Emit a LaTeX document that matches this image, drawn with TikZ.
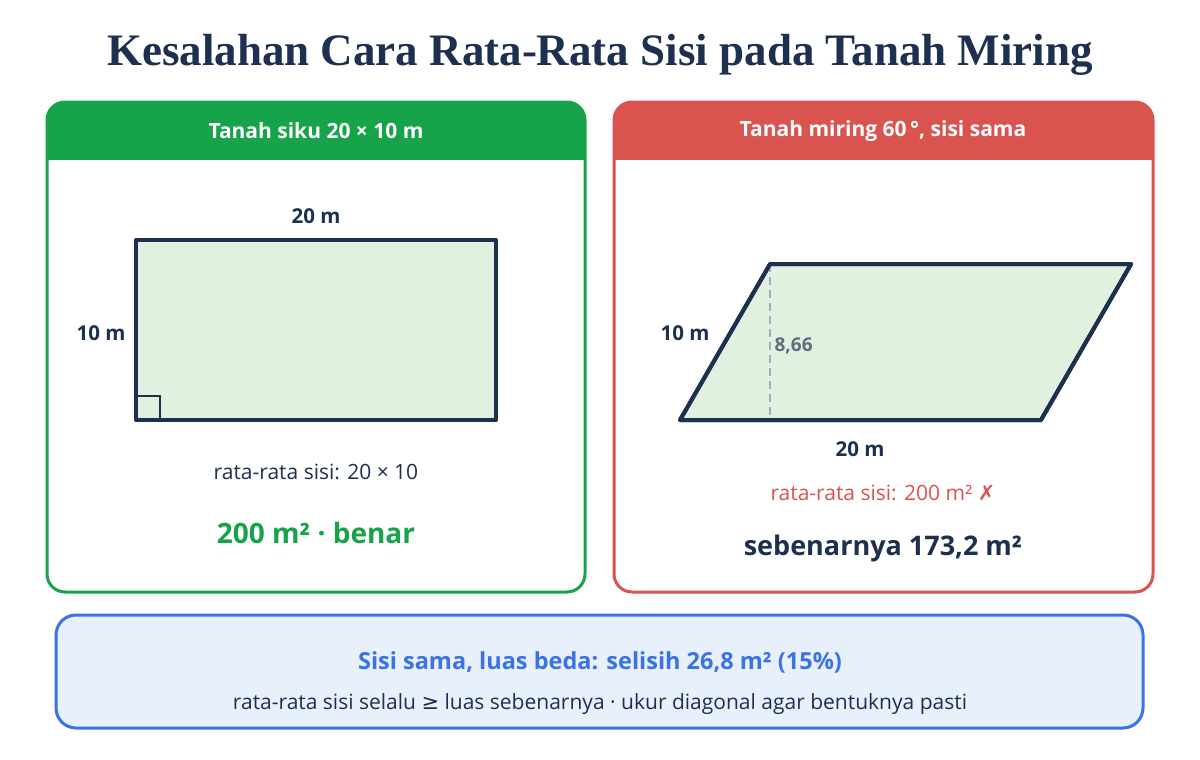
\documentclass[tikz,border=0pt]{standalone}
\usepackage{fontspec}
\setmainfont{Liberation Serif}
\setsansfont{Open Sans}
\newfontfamily\symb{DejaVu Sans}
\usetikzlibrary{calc}

\definecolor{navy}{HTML}{1E3050}
\definecolor{okgreen}{HTML}{16A34A}
\definecolor{badred}{HTML}{D9534F}
\definecolor{landfill}{HTML}{E1F0DF}
\definecolor{hintgray}{HTML}{A3ACBD}
\definecolor{numgray}{HTML}{5F6B7F}
\definecolor{notefill}{HTML}{E8F0FC}
\definecolor{noteblue}{HTML}{3B73E6}

\begin{document}
\begin{tikzpicture}[x=1pt,y=-1pt]
	\tikzset{panel/.style={line width=3pt, rounded corners=18pt}}
	\tikzset{land/.style={fill=landfill, draw=navy, line width=4pt, line join=round}}
	\tikzset{headtxt/.style={font=\sffamily\bfseries\fontsize{21}{24}\selectfont, text=white}}
	\tikzset{dimtxt/.style={font=\sffamily\bfseries\fontsize{20.5}{23}\selectfont, text=navy}}
	\tikzset{plaintxt/.style={font=\sffamily\fontsize{21}{24}\selectfont, text=navy}}
	\pgfmathsetmacro{\h}{156};
	\pgfmathsetmacro{\off}{\h/tan(60)};
	\useasboundingbox (0,0) rectangle (1200,760);
	\fill[white] (0,0) rectangle (1200,760);
	
	\node (title) at (600,55) {\bfseries\fontsize{45}{50}\selectfont\color{navy}Kesalahan Cara Rata-Rata Sisi pada Tanah Miring};
	
	% left panel: right-angled plot
	\begin{scope}
		\clip[rounded corners=18pt] (47,102) rectangle (585,592);
		\fill[okgreen] (47,102) rectangle (585,160);
	\end{scope}
	\draw[panel, draw=okgreen] (47,102) rectangle (585,592);
	\node[headtxt] (headL) at (316,131) {Tanah siku 20 × 10 m};
	
	\coordinate (R1) at (136,420);
	\coordinate (R2) at (496,240);
	\draw[land] (R1) rectangle (R2);
	\draw[navy, line width=2.5pt] ($(R1)+(24,0)$) -- ++(0,-24) -- ++(-24,0);
	\node[dimtxt] (topL) at (316,216) {20 m};
	\node[dimtxt] (sideL) at (101,333) {10 m};
	\node[plaintxt] (avgL) at (316,472) {rata-rata sisi: 20 × 10};
	\node[font=\sffamily\bfseries\fontsize{28}{32}\selectfont, text=okgreen] (resL) at (316,533) {200 m² · benar};
	
	% right panel: slanted plot
	\begin{scope}
		\clip[rounded corners=18pt] (614,102) rectangle (1153,592);
		\fill[badred] (614,102) rectangle (1153,160);
	\end{scope}
	\draw[panel, draw=badred] (614,102) rectangle (1153,592);
	\node[headtxt] (headR) at (883,131) {Tanah miring 60\,°, sisi sama};
	
	\coordinate (A) at (680,420);
	\coordinate (B) at (1041,420);
	\coordinate (D) at ($(A)+(\off,-\h)$);
	\coordinate (C) at ($(B)+(\off,-\h)$);
	\coordinate (F) at (D |- A);
	\draw[land] (A) -- (B) -- (C) -- (D) -- cycle;
	\draw[hintgray, dashed, line width=2.5pt, dash pattern=on 8pt off 5pt] (D) -- (F);
	\draw[land, fill=none] (A) -- (B) -- (C) -- (D) -- cycle;
	\node[font=\sffamily\bfseries\fontsize{19}{22}\selectfont, text=numgray, anchor=west] (hgt) at ($(D)+(1,82)$) {8,66};
	\node[dimtxt] (sideR) at (685,333) {10 m};
	\node[dimtxt] (botR) at (860,449) {20 m};
	\node[plaintxt, text=badred] (avgR) at (883,493) {rata-rata sisi: 200 m² {\symb ✗}};
	\node[font=\sffamily\bfseries\fontsize{27}{32}\selectfont, text=navy] (resR) at (883,548) {sebenarnya 173,2 m²};
	
	% bottom note
	\draw[line width=3pt, rounded corners=20pt, draw=noteblue, fill=notefill] (56,615) rectangle (1143,728);
	\node[font=\sffamily\bfseries\fontsize{23.5}{27}\selectfont, text=noteblue] (noteA) at (600,662) {Sisi sama, luas beda: selisih 26,8 m² (15\%)};
	\node[plaintxt] (noteB) at (600,704) {rata-rata sisi selalu {\symb ≥} luas sebenarnya · ukur diagonal agar bentuknya pasti};
\end{tikzpicture}
\end{document}
